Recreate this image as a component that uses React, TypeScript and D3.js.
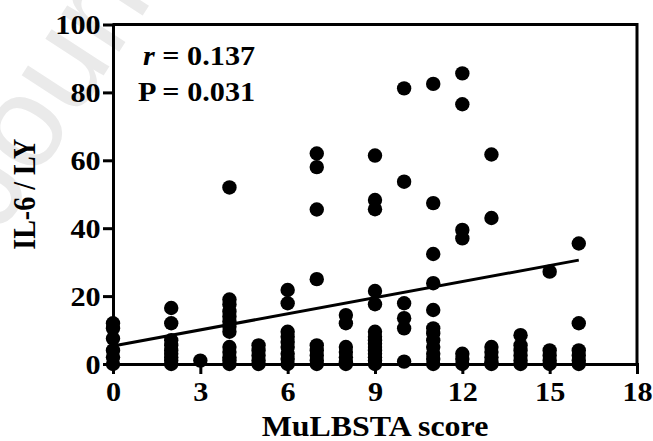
import React, { useEffect, useRef } from 'react'
import * as d3 from 'd3'

// MuLBSTA score columns and the IL-6 / LY values
const score0 = [12, 10.5, 7.5, 4, 2, 0]
const score2 = [16.5, 12, 7, 5.5, 4, 3, 2, 1, 0]
const score3 = [1]
const score4 = [52, 19, 17.5, 15.5, 14, 12.5, 11, 9.5, 5, 3.5, 2, 1, 0]
const score5 = [5.5, 4, 2.5, 1, 0]
const score6 = [21.8, 17.9, 9.5, 8, 6.5, 5, 3, 1.5, 0]
const score7 = [62, 58, 45.5, 25, 5.5, 4, 2.5, 1, 0]
const score8 = [14.4, 12, 5, 3.5, 2, 0.5, 0]
const score9 = [61.4, 48.3, 45.6, 21.5, 17.6, 9.5, 8, 7, 6, 5, 4, 3, 2, 1, 0]
const score10 = [81.2, 53.7, 17.9, 13.5, 10.5, 0.7]
const score11 = [82.5, 47.4, 32.4, 23.8, 15.9, 10.5, 9, 7, 5, 3, 1.5, 0]
const score12 = [85.6, 76.5, 39.5, 37, 3, 1.5, 0]
const score13 = [61.7, 43, 5, 3.5, 2, 0.5, 0]
const score14 = [8.5, 5.5, 4, 2.5, 1, 0]
const score15 = [27.2, 4, 2.5, 1, 0]
const score16 = [35.5, 12, 4, 2.5, 1, 0]

const columns: [number, number[]][] = [
  [0, score0],
  [2, score2],
  [3, score3],
  [4, score4],
  [5, score5],
  [6, score6],
  [7, score7],
  [8, score8],
  [9, score9],
  [10, score10],
  [11, score11],
  [12, score12],
  [13, score13],
  [14, score14],
  [15, score15],
  [16, score16],
]

const trendX = [0, 16]
const trendY = [5.3, 30.6]

const xTicks = [0, 3, 6, 9, 12, 15, 18]
const yTicks = [0, 20, 40, 60, 80, 100]

const font = '"Liberation Serif", "Times New Roman", serif'
// the picture is a little wider than tall, text is stretched sideways
const stretch = 1.12

export default function App() {
  const svgRef = useRef(null)
  const width = 653
  const height = 441
  const margin = { top: 24.5, right: 16, bottom: 77, left: 113 }

  useEffect(() => {
    document.body.style.margin = '0'

    const svgEl = d3.select(svgRef.current)
    svgEl.selectAll('*').remove()

    const x = d3.scaleLinear().domain([0, 18]).range([margin.left, width - margin.right])
    const y = d3.scaleLinear().domain([0, 100]).range([height - margin.bottom, margin.top])

    // watermark
    svgEl
      .append('text')
      .attr('transform', 'translate(0, 235) rotate(-57)')
      .attr('font-family', '"Liberation Sans", Arial, sans-serif')
      .attr('font-size', 130)
      .attr('fill', '#eaeaea')
      .text('Journal Pre-proof')

    // frame: top and right
    svgEl
      .append('path')
      .attr('d', `M${x(0)},${y(100)}H${x(18)}V${y(0)}`)
      .attr('fill', 'none')
      .attr('stroke', '#000')
      .attr('stroke-width', 3)

    const xAxisGroup = svgEl
      .append('g')
      .attr('transform', `translate(0, ${y(0)})`)
      .call(d3.axisBottom(x).tickValues(xTicks).tickSize(10).tickSizeOuter(0).tickPadding(8))

    const yAxisGroup = svgEl
      .append('g')
      .attr('transform', `translate(${x(0)}, 0)`)
      .call(d3.axisLeft(y).tickValues(yTicks).tickSize(10).tickSizeOuter(0).tickPadding(1))

    for (const g of [xAxisGroup, yAxisGroup]) {
      g.select('.domain').attr('stroke-width', 3).attr('stroke-linecap', 'square')
      g.selectAll('line').attr('stroke-width', 3)
      g.selectAll('text')
        .attr('font-family', font)
        .attr('font-weight', 'bold')
        .attr('font-size', 27)
        .attr('fill', '#000')
        .attr('transform', `scale(${stretch}, 1)`)
    }
    yAxisGroup.selectAll('text').attr('dy', '0.34em')

    // points
    const points = columns.flatMap(([s, vals]) => vals.map((v) => ({ s, v })))
    svgEl
      .append('g')
      .selectAll('circle')
      .data(points)
      .enter()
      .append('circle')
      .attr('cx', (d) => x(d.s))
      .attr('cy', (d) => y(d.v))
      .attr('r', 7.2)
      .attr('fill', '#000')

    // regression line
    svgEl
      .append('path')
      .datum(trendX.map((t, i) => [t, trendY[i]] as [number, number]))
      .attr('fill', 'none')
      .attr('stroke', '#000')
      .attr('stroke-width', 3)
      .attr(
        'd',
        d3
          .line<[number, number]>()
          .x((d) => x(d[0]))
          .y((d) => y(d[1]))
      )

    // stats
    const stats = svgEl
      .append('g')
      .attr('font-family', font)
      .attr('font-weight', 'bold')
      .attr('font-size', 27)
    const rText = stats
      .append('text')
      .attr('transform', `translate(143, 65) scale(${stretch}, 1)`)
    rText.append('tspan').attr('font-style', 'italic').text('r')
    rText.append('tspan').text(' = 0.137')
    stats
      .append('text')
      .attr('transform', `translate(138, 101) scale(${stretch}, 1)`)
      .text('P = 0.031')

    // axis titles
    svgEl
      .append('text')
      .attr('transform', `translate(${(x(0) + x(18)) / 2}, 436) scale(${stretch}, 1)`)
      .attr('text-anchor', 'middle')
      .attr('font-family', font)
      .attr('font-weight', 'bold')
      .attr('font-size', 28.5)
      .text('MuLBSTA score')

    svgEl
      .append('text')
      .attr('transform', `translate(35, ${(y(0) + y(100)) / 2}) scale(${stretch}, 1) rotate(-90)`)
      .attr('text-anchor', 'middle')
      .attr('font-family', font)
      .attr('font-weight', 'bold')
      .attr('font-size', 28)
      .text('IL-6 / LY')
  }, [])

  return <svg ref={svgRef} width={width} height={height} style={{ display: 'block' }} />
}
